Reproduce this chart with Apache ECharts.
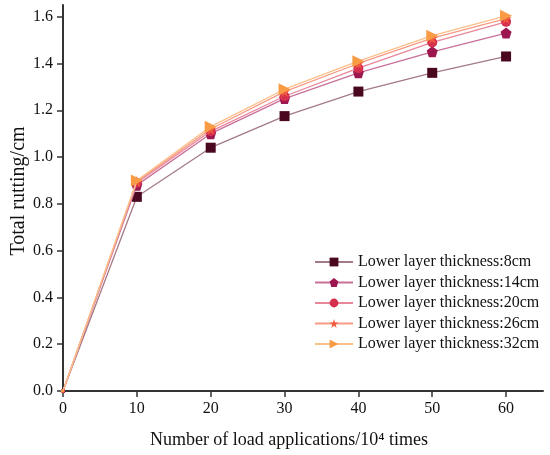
<!DOCTYPE html>
<html>
<head>
<meta charset="utf-8">
<script src="https://cdn.jsdelivr.net/npm/echarts@6/dist/echarts.min.js"></script>
<style>html,body{margin:0;padding:0;background:#fff;}#c{width:550px;height:455px;}</style>
</head>
<body>
<div id="c"></div>
<script>
var loads = [0, 10, 20, 30, 40, 50, 60];
var xTicks = [0, 10, 20, 30, 40, 50, 60];
var yTicks = [0, 0.2, 0.4, 0.6, 0.8, 1.0, 1.2, 1.4, 1.6];
var seriesNames = ['Lower layer thickness:8cm','Lower layer thickness:14cm','Lower layer thickness:20cm','Lower layer thickness:26cm','Lower layer thickness:32cm'];
var t8  = [0, 0.83, 1.04, 1.175, 1.28, 1.36, 1.43];
var t14 = [0, 0.88, 1.10, 1.25, 1.36, 1.45, 1.53];
var t20 = [0, 0.89, 1.11, 1.26, 1.38, 1.49, 1.578];
var t26 = [0, 0.895, 1.12, 1.28, 1.40, 1.508, 1.592];
var t32 = [0, 0.90, 1.13, 1.29, 1.41, 1.519, 1.604];

var values = [t8, t14, t20, t26, t32];
var markColors = ['#4a0720', '#9c1650', '#d6304f', '#f05a3c', '#f99a45'];
var lineColors = ['#a47a86', '#c8709a', '#e8869a', '#f69a86', '#fbc08a'];
var pentagon = 'path://M50,0 L100,38 L81,100 L19,100 L0,38 Z';
var star = 'path://M50,0 L61,35 L98,35 L68,57 L79,91 L50,70 L21,91 L32,57 L2,35 L39,35 Z';
var symbols = ['rect', pentagon, 'circle', star, 'triangle'];
var sizes = [10, 11, 10, 11, 12];
var rot = [0, 0, 0, 0, -90];

function pairs(arr, i){
  return loads.map(function(x,k){
    var d = {value: [x, arr[k]]};
    if (x === 0) { d.symbolSize = 4; }
    return d;
  });
}

var series = values.map(function(v, i){
  return {
    name: seriesNames[i], type: 'line', data: pairs(v, i),
    symbol: symbols[i], symbolSize: sizes[i], symbolRotate: rot[i],
    showAllSymbol: true,
    lineStyle: {color: lineColors[i], width: 1.3},
    itemStyle: {color: markColors[i]},
    z: 2 + i
  };
});

var chart = echarts.init(document.getElementById('c'));
chart.setOption({
  backgroundColor: '#fff',
  animation: false,
  textStyle: {fontFamily: 'Liberation Serif'},
  grid: {left: 63, right: 7, top: 5, bottom: 64, containLabel: false, outerBoundsMode: 'none'},
  legend: {
    orient: 'vertical', left: 309, top: 249,
    itemWidth: 38, itemHeight: 11, itemGap: 4.5,
    textStyle: {fontFamily: 'Liberation Serif', fontSize: 16, color: '#111'},
    data: seriesNames
  },
  xAxis: {
    type: 'value', min: 0, max: 65,
    name: 'Number of load applications/10\u2074 times',
    nameLocation: 'middle', nameGap: 40, nameMoveOverlap: false,
    nameTextStyle: {fontFamily: 'Liberation Serif', fontSize: 18, color: '#111', padding: [0,28,0,0]},
    axisLine: {show: true, lineStyle: {color: '#333', width: 2}},
    axisTick: {show: true, inside: false, length: 6, lineStyle: {color: '#333', width: 1.5}, customValues: xTicks},
    axisLabel: {fontFamily: 'Liberation Serif', fontSize: 16, color: '#111', margin: 10, customValues: xTicks},
    splitLine: {show: false}
  },
  yAxis: {
    type: 'value', min: 0, max: 1.65,
    name: 'Total rutting/cm',
    nameLocation: 'middle', nameGap: 34, nameMoveOverlap: false,
    nameTextStyle: {fontFamily: 'Liberation Serif', fontSize: 20, color: '#111', padding: [0,0,0,14]},
    axisLine: {show: true, lineStyle: {color: '#333', width: 2}},
    axisTick: {show: true, inside: false, length: 6, lineStyle: {color: '#333', width: 1.5}, customValues: yTicks},
    axisLabel: {fontFamily: 'Liberation Serif', fontSize: 16, color: '#111', margin: 10, customValues: yTicks,
      formatter: function(v){ return v.toFixed(1); }},
    splitLine: {show: false}
  },
  series: series
});
</script>
</body>
</html>
